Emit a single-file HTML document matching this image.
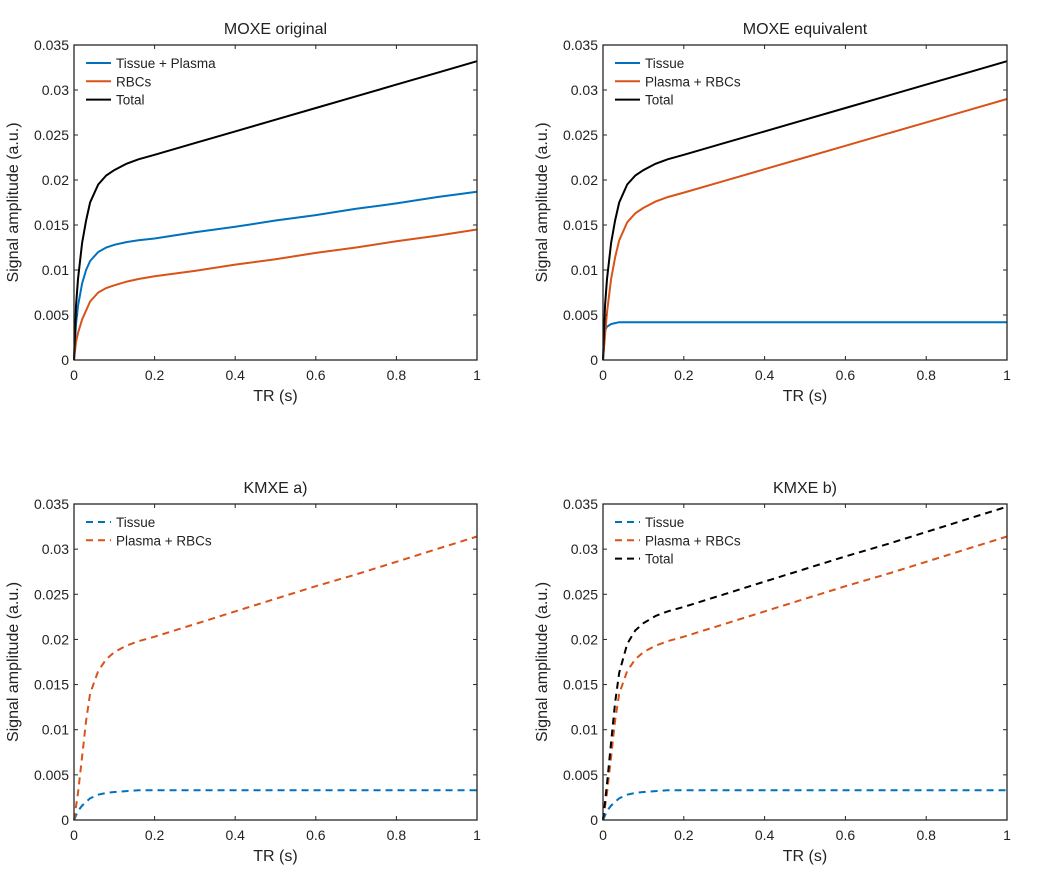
<!DOCTYPE html>
<html><head><meta charset="utf-8"><style>
body{margin:0;background:#fff;}
svg text{font-family:"Liberation Sans",Arial,sans-serif;fill:#222;}
</style></head><body>
<svg id="fig" width="1041" height="877" viewBox="0 0 1041 877" xmlns="http://www.w3.org/2000/svg"></svg>
<script>
const xs=[0,0.005,0.01,0.02,0.03,0.04,0.06,0.08,0.1,0.13,0.16,0.2,0.3,0.4,0.5,0.6,0.7,0.8,0.9,1.0];
const origTissuePlasma=[0,0.004,0.006,0.0085,0.01,0.011,0.012,0.0125,0.0128,0.0131,0.0133,0.0135,0.0142,0.0148,0.0155,0.0161,0.0168,0.0174,0.0181,0.0187];
const origRBC=[0,0.002,0.003,0.0045,0.0055,0.0065,0.0075,0.008,0.0083,0.0087,0.009,0.0093,0.0099,0.0106,0.0112,0.0119,0.0125,0.0132,0.0138,0.0145];
const origTotal=[0,0.006,0.009,0.013,0.0155,0.0175,0.0195,0.0205,0.0211,0.0218,0.0223,0.0228,0.0241,0.0254,0.0267,0.028,0.0293,0.0306,0.0319,0.0332];
const eqTissue=[0,0.0033,0.0037,0.004,0.0041,0.0042,0.0042,0.0042,0.0042,0.0042,0.0042,0.0042,0.0042,0.0042,0.0042,0.0042,0.0042,0.0042,0.0042,0.0042];
const eqPlasmaRBC=[0,0.0027,0.0053,0.009,0.0114,0.0133,0.0153,0.0163,0.0169,0.0176,0.0181,0.0186,0.0199,0.0212,0.0225,0.0238,0.0251,0.0264,0.0277,0.029];
const kmTissue=[0,0.0005,0.001,0.0016,0.002,0.0024,0.0028,0.003,0.0031,0.0032,0.0033,0.0033,0.0033,0.0033,0.0033,0.0033,0.0033,0.0033,0.0033,0.0033];
const kmPlasmaRBC=[0,0.0015,0.003,0.007,0.011,0.014,0.0165,0.0178,0.0186,0.0193,0.0198,0.0203,0.0217,0.0231,0.0245,0.0259,0.0272,0.0286,0.03,0.0314];
const kmTotal=[0,0.002,0.004,0.0086,0.013,0.0163,0.0195,0.021,0.0218,0.0226,0.0231,0.0236,0.025,0.0264,0.0278,0.0292,0.0305,0.0319,0.0333,0.0347];
const xTicks=[0,0.2,0.4,0.6,0.8,1];
const xTickLabels=["0","0.2","0.4","0.6","0.8","1"];
const yTicks=[0,0.005,0.01,0.015,0.02,0.025,0.03,0.035];
const yTickLabels=["0","0.005","0.01","0.015","0.02","0.025","0.03","0.035"];
const BLUE="#0072BD",RED="#D95319",BLK="#000";
const NS="http://www.w3.org/2000/svg";
const fig=document.getElementById('fig');
function el(tag,attrs,parent,text){const e=document.createElementNS(NS,tag);for(const k in attrs)e.setAttribute(k,attrs[k]);if(text!==undefined)e.textContent=text;(parent||fig).appendChild(e);return e;}
const panels=[
 {id:'moxe-original',title:'MOXE original',x0:74,x1:477,y0:45,y1:360,series:[[origTissuePlasma,BLUE,'Tissue + Plasma'],[origRBC,RED,'RBCs'],[origTotal,BLK,'Total']],dash:false},
 {id:'moxe-equivalent',title:'MOXE equivalent',x0:603,x1:1007,y0:45,y1:360,series:[[eqTissue,BLUE,'Tissue'],[eqPlasmaRBC,RED,'Plasma + RBCs'],[origTotal,BLK,'Total']],dash:false},
 {id:'kmxe-a',title:'KMXE a)',x0:74,x1:477,y0:504,y1:820,series:[[kmTissue,BLUE,'Tissue'],[kmPlasmaRBC,RED,'Plasma + RBCs']],dash:true},
 {id:'kmxe-b',title:'KMXE b)',x0:603,x1:1007,y0:504,y1:820,series:[[kmTissue,BLUE,'Tissue'],[kmPlasmaRBC,RED,'Plasma + RBCs'],[kmTotal,BLK,'Total']],dash:true}
];
panels.forEach(p=>{
 const g=el('g',{});
 
 
 const sx=v=>p.x0+(p.x1-p.x0)*v, sy=v=>p.y1-(p.y1-p.y0)*v/0.035;
 const t=el('text',{x:(p.x0+p.x1)/2,y:p.y0-11,'text-anchor':'middle','font-size':16},g,p.title);
 
 // series
 p.series.forEach((s,i)=>{
  const d=xs.map((x,j)=>(j?'L':'M')+sx(x).toFixed(1)+','+sy(s[0][j]).toFixed(1)).join('');
  const path=el('path',{d:d,fill:'none',stroke:s[1],'stroke-width':2,'stroke-dasharray':p.dash?'7,5':'none'},g);
  
  
 });
 // axes box
 const box=el('rect',{x:p.x0,y:p.y0,width:p.x1-p.x0,height:p.y1-p.y0,fill:'none',stroke:'#262626','stroke-width':1.3},g);
 
 xTicks.forEach((v,i)=>{
  const X=sx(v);
  el('line',{x1:X,x2:X,y1:p.y1,y2:p.y1-4,stroke:'#262626'},g);
  el('line',{x1:X,x2:X,y1:p.y0,y2:p.y0+4,stroke:'#262626'},g);
  const tl=el('text',{x:X,y:p.y1+20,'text-anchor':'middle','font-size':14},g,xTickLabels[i]);
  
 });
 yTicks.forEach((v,i)=>{
  const Y=sy(v);
  el('line',{x1:p.x0,x2:p.x0+4,y1:Y,y2:Y,stroke:'#262626'},g);
  el('line',{x1:p.x1,x2:p.x1-4,y1:Y,y2:Y,stroke:'#262626'},g);
  const tl=el('text',{x:p.x0-5,y:Y+5,'text-anchor':'end','font-size':14},g,yTickLabels[i]);
  
 });
 const xl=el('text',{x:(p.x0+p.x1)/2,y:p.y1+41,'text-anchor':'middle','font-size':16},g,'TR (s)');
 
 const cy=(p.y0+p.y1)/2, cx=p.x0-56;
 const yl=el('text',{x:cx,y:cy,'text-anchor':'middle','font-size':16,transform:`rotate(-90 ${cx} ${cy})`},g,'Signal amplitude (a.u.)');
 
 // legend
 p.series.forEach((s,i)=>{
  const Y=p.y0+18+i*18.3;
  const lg=el('g',{},g);
  
  
  el('line',{x1:p.x0+12,x2:p.x0+37,y1:Y,y2:Y,stroke:s[1],'stroke-width':2,'stroke-dasharray':p.dash?'7,5':'none'},lg);
  el('text',{x:p.x0+42,y:Y+5,'font-size':13.5},lg,s[2]);
 });
});
</script>
</body></html>
